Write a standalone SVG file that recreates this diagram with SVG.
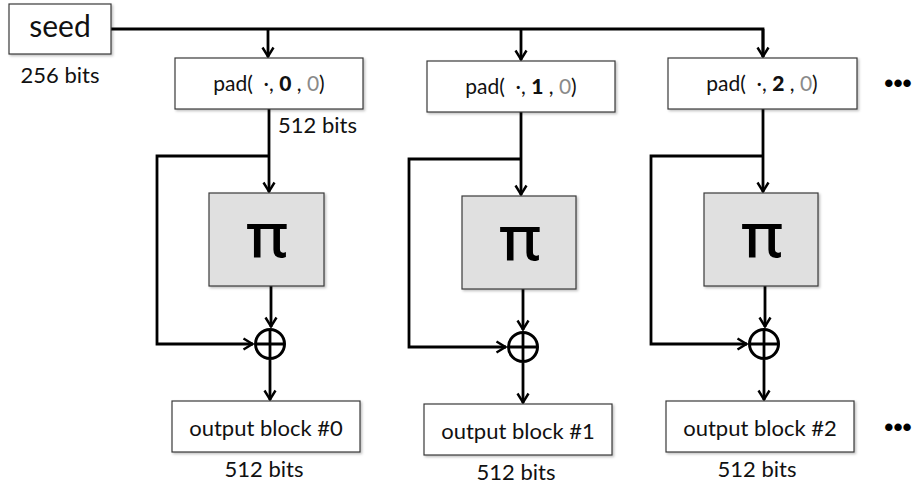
<svg xmlns="http://www.w3.org/2000/svg" width="913" height="486" viewBox="0 0 913 486">
<style>
  text { font-family: Lato, "Liberation Sans", sans-serif; fill: #111; }
  .box { fill: #ffffff; stroke: #3a3a3a; stroke-width: 1.2; filter: url(#sh); }
  .pi { fill: #e0e0e0; stroke: #3a3a3a; stroke-width: 1.2; filter: url(#sh); }
  .lbl { font-size: 22px; text-anchor: middle; }
  .pad { font-size: 21px; text-anchor: middle; }
  .pisym { font-size: 62px; text-anchor: middle; font-family: "Noto Sans", "Open Sans", sans-serif; font-weight: 500; fill: #000; }
  .b { font-weight: 900; }
  .g { fill: #8a8a8a; }
  .wire { fill: none; stroke: #000; stroke-width: 2.8; }
  .arr { marker-end: url(#ah); }
  .xor { fill: #fff; stroke: #000; stroke-width: 3; }
  .dots { font-size: 26px; font-weight: bold; font-family: "Liberation Sans", sans-serif; fill: #000; }
</style>
<defs>
  <filter id="sh" x="-10%" y="-10%" width="125%" height="130%">
    <feDropShadow dx="1.5" dy="1.5" stdDeviation="1" flood-color="#000" flood-opacity="0.25"/>
  </filter>
  <marker id="ah" markerUnits="userSpaceOnUse" markerWidth="14" markerHeight="14" viewBox="-12 -7 14 14" refX="0" refY="0" orient="auto">
    <path d="M-9.5,-5.5 L-0.5,0 L-9.5,5.5" fill="none" stroke="#000" stroke-width="2.4"/>
  </marker>
</defs>

<g id="connectors">
  <path class="wire" d="M111,29 H763 V57"/>
  <path class="wire arr" d="M763,29 V57"/>
  <path class="wire arr" d="M268,29 V57"/>
  <path class="wire arr" d="M521,29 V60"/>

  <path class="wire arr" d="M269,109 V192"/>
  <path class="wire arr" d="M269,156 H157 V344 H253"/>
  <path class="wire arr" d="M271,286 V327"/>
  <path class="wire arr" d="M270,360 V400"/>

  <path class="wire arr" d="M521,112 V195"/>
  <path class="wire arr" d="M521,159 H409 V347 H506"/>
  <path class="wire arr" d="M523,289 V330"/>
  <path class="wire arr" d="M523,363 V403"/>

  <path class="wire arr" d="M763,109 V192"/>
  <path class="wire arr" d="M763,156 H651 V344 H747"/>
  <path class="wire arr" d="M765,286 V327"/>
  <path class="wire arr" d="M764,360 V400"/>
</g>

<g id="seed">
  <rect class="box" x="9" y="4" width="102" height="50"/>
  <text x="60" y="37" font-size="30" text-anchor="middle">seed</text>
  <text class="lbl" x="60" y="83">256 bits</text>
</g>

<g id="pad0">
  <rect class="box" x="175" y="58" width="188" height="51"/>
  <text class="pad" x="269" y="91">pad(&#160;&#160;·, <tspan class="b">0</tspan> , <tspan class="g">0</tspan>)</text>
  <text class="lbl" x="278" y="133" style="text-anchor:start">512 bits</text>
</g>
<g id="pad1">
  <rect class="box" x="427" y="61" width="188" height="51"/>
  <text class="pad" x="521" y="94">pad(&#160;&#160;·, <tspan class="b">1</tspan> , <tspan class="g">0</tspan>)</text>
</g>
<g id="pad2">
  <rect class="box" x="668" y="58" width="189" height="51"/>
  <text class="pad" x="762" y="91">pad(&#160;&#160;·, <tspan class="b">2</tspan> , <tspan class="g">0</tspan>)</text>
</g>

<g id="pi0">
  <rect class="pi" x="209" y="193" width="115" height="93"/>
  <text class="pisym" x="267" y="257">π</text>
</g>
<g id="pi1">
  <rect class="pi" x="462" y="196" width="114" height="93"/>
  <text class="pisym" x="520" y="260">π</text>
</g>
<g id="pi2">
  <rect class="pi" x="704" y="193" width="114" height="93"/>
  <text class="pisym" x="762" y="257">π</text>
</g>

<g id="xor0">
  <circle class="xor" cx="270" cy="344" r="14.5"/>
  <path class="wire" d="M270,329.5 V358.5 M255.5,344 H284.5"/>
</g>
<g id="xor1">
  <circle class="xor" cx="523" cy="347" r="14.5"/>
  <path class="wire" d="M523,332.5 V361.5 M508.5,347 H537.5"/>
</g>
<g id="xor2">
  <circle class="xor" cx="764" cy="344" r="14.5"/>
  <path class="wire" d="M764,329.5 V358.5 M749.5,344 H778.5"/>
</g>

<g id="out0">
  <rect class="box" x="172" y="401" width="188" height="51"/>
  <text class="lbl" x="266" y="436">output block #0</text>
  <text class="lbl" x="264" y="477">512 bits</text>
</g>
<g id="out1">
  <rect class="box" x="424" y="404" width="188" height="51"/>
  <text class="lbl" x="518" y="439">output block #1</text>
  <text class="lbl" x="516" y="480">512 bits</text>
</g>
<g id="out2">
  <rect class="box" x="666" y="401" width="188" height="51"/>
  <text class="lbl" x="760" y="436">output block #2</text>
  <text class="lbl" x="757" y="477">512 bits</text>
</g>

<g id="ellipsis-top">
  <text class="dots" x="898" y="92" text-anchor="middle">•••</text>
</g>
<g id="ellipsis-bottom">
  <text class="dots" x="898" y="436" text-anchor="middle">•••</text>
</g>
</svg>
